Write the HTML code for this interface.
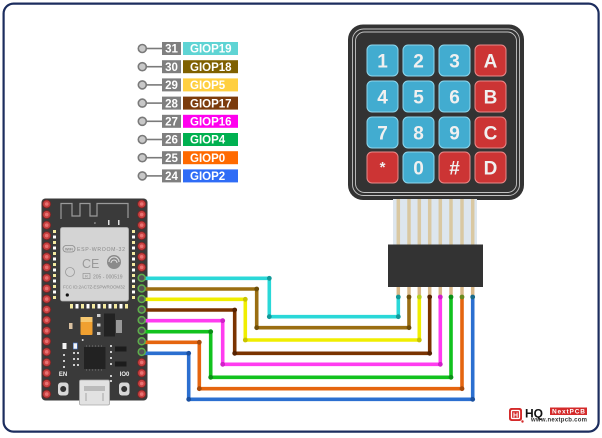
<!DOCTYPE html>
<html><head><meta charset="utf-8"><style>
html,body{margin:0;padding:0;background:#fff;}
svg{display:block;}
text{font-family:"Liberation Sans",Arial,sans-serif;}
</style></head><body>
<svg width="602" height="438" viewBox="0 0 602 438" xmlns="http://www.w3.org/2000/svg">
<rect x="0" y="0" width="602" height="438" fill="#fff"/>
<rect x="3.6" y="3.6" width="595" height="428" rx="10" fill="none" stroke="#1c2d5e" stroke-width="2.2"/>

<!-- Legend -->
<g font-weight="bold" fill="#fff">
<g stroke="#7a7a7a" stroke-width="1.6">
<line x1="146" y1="48.5" x2="162" y2="48.5"/><line x1="146" y1="66.7" x2="162" y2="66.7"/>
<line x1="146" y1="84.9" x2="162" y2="84.9"/><line x1="146" y1="103.1" x2="162" y2="103.1"/>
<line x1="146" y1="121.3" x2="162" y2="121.3"/><line x1="146" y1="139.5" x2="162" y2="139.5"/>
<line x1="146" y1="157.7" x2="162" y2="157.7"/><line x1="146" y1="175.9" x2="162" y2="175.9"/>
<circle cx="142.3" cy="48.5" r="4" fill="#c8c8c8"/><circle cx="142.3" cy="66.7" r="4" fill="#c8c8c8"/>
<circle cx="142.3" cy="84.9" r="4" fill="#c8c8c8"/><circle cx="142.3" cy="103.1" r="4" fill="#c8c8c8"/>
<circle cx="142.3" cy="121.3" r="4" fill="#c8c8c8"/><circle cx="142.3" cy="139.5" r="4" fill="#c8c8c8"/>
<circle cx="142.3" cy="157.7" r="4" fill="#c8c8c8"/><circle cx="142.3" cy="175.9" r="4" fill="#c8c8c8"/>
</g>
<g fill="#7f7f7f">
<rect x="162" y="42" width="19" height="13"/><rect x="162" y="60.2" width="19" height="13"/>
<rect x="162" y="78.4" width="19" height="13"/><rect x="162" y="96.6" width="19" height="13"/>
<rect x="162" y="114.8" width="19" height="13"/><rect x="162" y="133" width="19" height="13"/>
<rect x="162" y="151.2" width="19" height="13"/><rect x="162" y="169.4" width="19" height="13"/>
</g>
<rect x="183" y="42" width="55" height="13" fill="#5fd4d4"/>
<rect x="183" y="60.2" width="55" height="13" fill="#7f6000"/>
<rect x="183" y="78.4" width="55" height="13" fill="#ffcf40"/>
<rect x="183" y="96.6" width="55" height="13" fill="#7b3b0c"/>
<rect x="183" y="114.8" width="55" height="13" fill="#ff00ee"/>
<rect x="183" y="133" width="55" height="13" fill="#00b050"/>
<rect x="183" y="151.2" width="55" height="13" fill="#ff6a00"/>
<rect x="183" y="169.4" width="55" height="13" fill="#2f6cf6"/>
<g font-size="11.5" text-anchor="middle">
<text x="171.5" y="52.7">31</text><text x="171.5" y="70.9">30</text>
<text x="171.5" y="89.1">29</text><text x="171.5" y="107.3">28</text>
<text x="171.5" y="125.5">27</text><text x="171.5" y="143.7">26</text>
<text x="171.5" y="161.9">25</text><text x="171.5" y="180.1">24</text>
</g>
<g font-size="11.5">
<text x="190" y="52.7">GIOP19</text><text x="190" y="70.9">GIOP18</text>
<text x="190" y="89.1">GIOP5</text><text x="190" y="107.3">GIOP17</text>
<text x="190" y="125.5">GIOP16</text><text x="190" y="143.7">GIOP4</text>
<text x="190" y="161.9">GIOP0</text><text x="190" y="180.1">GIOP2</text>
</g>
</g>

<!-- Keypad -->
<rect x="348" y="24.5" width="176" height="175.5" rx="15" fill="#333"/>
<rect x="352.5" y="29" width="167" height="166.5" rx="11" fill="none" stroke="#c4c4c4" stroke-width="0.9"/>
<rect x="355.5" y="32" width="161" height="160.5" rx="9" fill="none" stroke="#c4c4c4" stroke-width="0.9"/>
<g stroke-width="1">
<g fill="#42acd0" stroke="#8fd6ec">
<rect x="367" y="45" width="31" height="31" rx="5"/><rect x="403" y="45" width="31" height="31" rx="5"/><rect x="439" y="45" width="31" height="31" rx="5"/>
<rect x="367" y="81" width="31" height="31" rx="5"/><rect x="403" y="81" width="31" height="31" rx="5"/><rect x="439" y="81" width="31" height="31" rx="5"/>
<rect x="367" y="117" width="31" height="31" rx="5"/><rect x="403" y="117" width="31" height="31" rx="5"/><rect x="439" y="117" width="31" height="31" rx="5"/>
<rect x="403" y="152" width="31" height="31" rx="5"/>
</g>
<g fill="#cc3434" stroke="#e98a8a">
<rect x="475" y="45" width="31" height="31" rx="5"/><rect x="475" y="81" width="31" height="31" rx="5"/>
<rect x="475" y="117" width="31" height="31" rx="5"/><rect x="475" y="152" width="31" height="31" rx="5"/>
<rect x="367" y="152" width="31" height="31" rx="5"/><rect x="439" y="152" width="31" height="31" rx="5"/>
</g>
</g>
<g font-size="19" font-weight="bold" fill="#f0f0f0" text-anchor="middle">
<text x="382.5" y="67.5">1</text><text x="418.5" y="67.5">2</text><text x="454.5" y="67.5">3</text><text x="490.5" y="67.5">A</text>
<text x="382.5" y="103.5">4</text><text x="418.5" y="103.5">5</text><text x="454.5" y="103.5">6</text><text x="490.5" y="103.5">B</text>
<text x="382.5" y="139.5">7</text><text x="418.5" y="139.5">8</text><text x="454.5" y="139.5">9</text><text x="490.5" y="139.5">C</text>
<text x="382.5" y="172" font-size="15">*</text><text x="418.5" y="174.5">0</text><text x="454.5" y="174.5">#</text><text x="490.5" y="174.5">D</text>
</g>

<!-- Ribbon -->
<rect x="393" y="199" width="84" height="46" fill="#dde6ee"/>
<g stroke="#d9c8a2" stroke-width="3.5">
<line x1="398.3" y1="199" x2="398.3" y2="245"/><line x1="409" y1="199" x2="409" y2="245"/>
<line x1="419.3" y1="199" x2="419.3" y2="245"/><line x1="429.7" y1="199" x2="429.7" y2="245"/>
<line x1="440.3" y1="199" x2="440.3" y2="245"/><line x1="451" y1="199" x2="451" y2="245"/>
<line x1="462" y1="199" x2="462" y2="245"/><line x1="472.7" y1="199" x2="472.7" y2="245"/>
</g>
<!-- Connector -->
<rect x="388" y="244.5" width="95" height="42.5" fill="#333"/>
<g stroke="#d8b888" stroke-width="3.5">
<line x1="398.3" y1="287" x2="398.3" y2="297"/><line x1="409" y1="287" x2="409" y2="297"/>
<line x1="419.3" y1="287" x2="419.3" y2="297"/><line x1="429.7" y1="287" x2="429.7" y2="297"/>
<line x1="440.3" y1="287" x2="440.3" y2="297"/><line x1="451" y1="287" x2="451" y2="297"/>
<line x1="462" y1="287" x2="462" y2="297"/><line x1="472.7" y1="287" x2="472.7" y2="297"/>
</g>

<!-- ESP32 board -->
<rect x="41.5" y="198.5" width="106" height="202" rx="4" fill="#3a3a3a"/>
<polyline points="61,219 61,203.5 72,203.5 72,216 80,216 80,203.5 90,203.5 90,216 97,216 97,203.5 128,203.5 128,218" fill="none" stroke="#9a9a9a" stroke-width="1.2"/>
<text x="94" y="224" font-size="4" fill="#ccc">c</text>
<rect x="108" y="220" width="1.5" height="5" fill="#ddd"/><rect x="118" y="220" width="1.5" height="5" fill="#ddd"/>
<rect x="60.5" y="227.5" width="68" height="73.5" rx="2" fill="#d4d4d4" stroke="#b5b5b5" stroke-width="0.8"/>
<g>
<rect x="53" y="230" width="3" height="3" fill="#f4eaa0"/><rect x="53" y="235.5" width="3" height="3" fill="#fff"/>
<rect x="53" y="241" width="3" height="3" fill="#f4eaa0"/><rect x="53" y="246.5" width="3" height="3" fill="#fff"/>
<rect x="53" y="252" width="3" height="3" fill="#f4eaa0"/><rect x="53" y="257.5" width="3" height="3" fill="#fff"/>
<rect x="53" y="263" width="3" height="3" fill="#f4eaa0"/><rect x="53" y="268.5" width="3" height="3" fill="#fff"/>
<rect x="53" y="274" width="3" height="3" fill="#f4eaa0"/><rect x="53" y="279.5" width="3" height="3" fill="#fff"/>
<rect x="53" y="285" width="3" height="3" fill="#f4eaa0"/><rect x="53" y="290.5" width="3" height="3" fill="#fff"/>
<rect x="53" y="296" width="3" height="3" fill="#f4eaa0"/>
<rect x="132" y="230" width="3" height="3" fill="#f4eaa0"/><rect x="132" y="235.5" width="3" height="3" fill="#fff"/>
<rect x="132" y="241" width="3" height="3" fill="#f4eaa0"/><rect x="132" y="246.5" width="3" height="3" fill="#fff"/>
<rect x="132" y="252" width="3" height="3" fill="#f4eaa0"/><rect x="132" y="257.5" width="3" height="3" fill="#fff"/>
<rect x="132" y="263" width="3" height="3" fill="#f4eaa0"/><rect x="132" y="268.5" width="3" height="3" fill="#fff"/>
<rect x="132" y="274" width="3" height="3" fill="#f4eaa0"/><rect x="132" y="279.5" width="3" height="3" fill="#fff"/>
<rect x="132" y="285" width="3" height="3" fill="#f4eaa0"/><rect x="132" y="290.5" width="3" height="3" fill="#fff"/>
<rect x="132" y="296" width="3" height="3" fill="#f4eaa0"/>
<rect x="70" y="304" width="3" height="4.5" fill="#f4eaa0"/><rect x="75.5" y="304" width="3" height="4.5" fill="#fff"/>
<rect x="81" y="304" width="3" height="4.5" fill="#f4eaa0"/><rect x="86.5" y="304" width="3" height="4.5" fill="#fff"/>
<rect x="92" y="304" width="3" height="4.5" fill="#f4eaa0"/><rect x="97.5" y="304" width="3" height="4.5" fill="#fff"/>
<rect x="103" y="304" width="3" height="4.5" fill="#f4eaa0"/><rect x="108.5" y="304" width="3" height="4.5" fill="#fff"/>
<rect x="114" y="304" width="3" height="4.5" fill="#f4eaa0"/><rect x="119.5" y="304" width="3" height="4.5" fill="#fff"/>
<rect x="125" y="304" width="3" height="4.5" fill="#f4eaa0"/>
</g>
<rect x="63" y="245.5" width="12" height="6.5" rx="3.2" fill="none" stroke="#8a8a8a" stroke-width="0.8"/>
<text x="65" y="250.5" font-size="3.8" font-weight="bold" fill="#8a8a8a">WiFi</text>
<text x="77" y="251" font-size="5.2" fill="#8a8a8a" textLength="48">ESP-WROOM-32</text>
<text x="82" y="268" font-size="12.5" fill="#9a9a9a">CE</text>
<circle cx="114" cy="262" r="7" fill="#8a8a8a"/>
<path d="M109,262 a5,5 0 0 1 10,0 M111,263 a3,3 0 0 1 6,0" fill="none" stroke="#e0e0e0" stroke-width="1"/>
<circle cx="70" cy="272" r="4.5" fill="none" stroke="#999" stroke-width="0.8"/>
<rect x="83" y="273.5" width="7" height="5" fill="none" stroke="#8a8a8a" stroke-width="0.6"/>
<text x="85" y="277.7" font-size="4" fill="#8a8a8a">R</text>
<text x="93" y="278.5" font-size="5" fill="#8a8a8a">205 - 000519</text>
<text x="63" y="288.5" font-size="4.5" fill="#8a8a8a" textLength="62">FCC ID:2AC7Z-ESPWROOM32</text>
<circle cx="67.3" cy="295" r="1.6" fill="#111"/>

<!-- lower components -->
<rect x="80.5" y="317" width="12" height="18" rx="1" fill="#f0a030"/>
<rect x="80.5" y="317" width="12" height="5" fill="#f6c870"/>
<rect x="97" y="314" width="3.5" height="3" fill="#ccc"/><rect x="97" y="323.5" width="3.5" height="3" fill="#ccc"/><rect x="97" y="332" width="3.5" height="3" fill="#ccc"/>
<rect x="104" y="313.5" width="11" height="23" fill="#222"/>
<rect x="116" y="320" width="6" height="13" fill="#999"/>
<rect x="69" y="323" width="3.5" height="6" fill="#d9c0a0"/>
<circle cx="82.7" cy="340" r="1" fill="#ddd"/>
<rect x="62.5" y="343" width="4" height="6" fill="#f4f4f4"/>
<rect x="73.3" y="343" width="4" height="6" fill="#f4f4f4" stroke="#4477cc" stroke-width="0.6"/>
<rect x="84" y="347" width="21.5" height="22" fill="#222"/>
<g fill="#777">
<rect x="86" y="345.5" width="1" height="1"/><rect x="89" y="345.5" width="1" height="1"/><rect x="92" y="345.5" width="1" height="1"/><rect x="95" y="345.5" width="1" height="1"/><rect x="98" y="345.5" width="1" height="1"/><rect x="101" y="345.5" width="1" height="1"/>
<rect x="86" y="369.5" width="1" height="1"/><rect x="89" y="369.5" width="1" height="1"/><rect x="92" y="369.5" width="1" height="1"/><rect x="95" y="369.5" width="1" height="1"/><rect x="98" y="369.5" width="1" height="1"/><rect x="101" y="369.5" width="1" height="1"/>
</g>
<g fill="#ccc">
<rect x="63" y="354" width="2" height="2"/><rect x="63" y="360" width="2" height="2"/><rect x="63" y="366" width="2" height="2"/>
<rect x="73" y="352" width="2" height="2"/><rect x="77" y="352" width="2" height="2"/><rect x="73" y="358" width="2" height="2"/><rect x="77" y="358" width="2" height="2"/><rect x="73" y="364" width="2" height="2"/><rect x="77" y="364" width="2" height="2"/>
<rect x="110" y="345" width="2" height="2"/><rect x="110" y="351" width="2" height="2"/><rect x="110" y="357" width="2" height="2"/><rect x="110" y="363" width="2" height="2"/><rect x="110" y="375" width="2" height="2"/><rect x="110" y="380" width="2" height="2"/>
</g>
<rect x="115" y="346.5" width="11.5" height="5" fill="#1c1c1c"/>
<rect x="115" y="361.5" width="11.5" height="5" fill="#1c1c1c"/>
<text x="63" y="376" font-size="6" font-weight="bold" fill="#eee" text-anchor="middle">EN</text>
<text x="124.5" y="376" font-size="6" font-weight="bold" fill="#eee" text-anchor="middle">IO0</text>
<rect x="58" y="382.5" width="10.5" height="13" rx="3" fill="#d8d8d8"/><circle cx="63.2" cy="389" r="3" fill="#333"/>
<rect x="119" y="382.5" width="10.5" height="13" rx="3" fill="#d8d8d8"/><circle cx="124.2" cy="389" r="3" fill="#333"/>
<rect x="79.5" y="380" width="30" height="25" rx="1.5" fill="#e2e2e2" stroke="#a8a8a8" stroke-width="0.8"/>
<rect x="84" y="386" width="21" height="5" fill="#bbb"/>
<line x1="86" y1="393" x2="86" y2="401" stroke="#999" stroke-width="0.8"/><line x1="103" y1="393" x2="103" y2="401" stroke="#999" stroke-width="0.8"/>

<!-- pins -->
<g fill="#c94040" stroke="#7a2424" stroke-width="0.8">
<circle cx="46.7" cy="204" r="4"/><circle cx="46.7" cy="214.56" r="4"/><circle cx="46.7" cy="225.12" r="4"/><circle cx="46.7" cy="235.68" r="4"/><circle cx="46.7" cy="246.24" r="4"/><circle cx="46.7" cy="256.8" r="4"/><circle cx="46.7" cy="267.36" r="4"/><circle cx="46.7" cy="277.92" r="4"/><circle cx="46.7" cy="288.48" r="4"/><circle cx="46.7" cy="299.04" r="4"/><circle cx="46.7" cy="309.6" r="4"/><circle cx="46.7" cy="320.16" r="4"/><circle cx="46.7" cy="330.72" r="4"/><circle cx="46.7" cy="341.28" r="4"/><circle cx="46.7" cy="351.84" r="4"/><circle cx="46.7" cy="362.4" r="4"/><circle cx="46.7" cy="372.96" r="4"/><circle cx="46.7" cy="383.52" r="4"/><circle cx="46.7" cy="394.08" r="4"/>
<circle cx="141.7" cy="204" r="4"/><circle cx="141.7" cy="214.56" r="4"/><circle cx="141.7" cy="225.12" r="4"/><circle cx="141.7" cy="235.68" r="4"/><circle cx="141.7" cy="246.24" r="4"/><circle cx="141.7" cy="256.8" r="4"/><circle cx="141.7" cy="267.36" r="4"/>
<circle cx="141.7" cy="362.4" r="4"/><circle cx="141.7" cy="372.96" r="4"/><circle cx="141.7" cy="383.52" r="4"/><circle cx="141.7" cy="394.08" r="4"/>
</g>
<g fill="#e87272">
<circle cx="46.7" cy="204" r="1.8"/><circle cx="46.7" cy="214.56" r="1.8"/><circle cx="46.7" cy="225.12" r="1.8"/><circle cx="46.7" cy="235.68" r="1.8"/><circle cx="46.7" cy="246.24" r="1.8"/><circle cx="46.7" cy="256.8" r="1.8"/><circle cx="46.7" cy="267.36" r="1.8"/><circle cx="46.7" cy="277.92" r="1.8"/><circle cx="46.7" cy="288.48" r="1.8"/><circle cx="46.7" cy="299.04" r="1.8"/><circle cx="46.7" cy="309.6" r="1.8"/><circle cx="46.7" cy="320.16" r="1.8"/><circle cx="46.7" cy="330.72" r="1.8"/><circle cx="46.7" cy="341.28" r="1.8"/><circle cx="46.7" cy="351.84" r="1.8"/><circle cx="46.7" cy="362.4" r="1.8"/><circle cx="46.7" cy="372.96" r="1.8"/><circle cx="46.7" cy="383.52" r="1.8"/><circle cx="46.7" cy="394.08" r="1.8"/>
<circle cx="141.7" cy="204" r="1.8"/><circle cx="141.7" cy="214.56" r="1.8"/><circle cx="141.7" cy="225.12" r="1.8"/><circle cx="141.7" cy="235.68" r="1.8"/><circle cx="141.7" cy="246.24" r="1.8"/><circle cx="141.7" cy="256.8" r="1.8"/><circle cx="141.7" cy="267.36" r="1.8"/>
<circle cx="141.7" cy="362.4" r="1.8"/><circle cx="141.7" cy="372.96" r="1.8"/><circle cx="141.7" cy="383.52" r="1.8"/><circle cx="141.7" cy="394.08" r="1.8"/>
</g>

<!-- wires -->
<g fill="none" stroke-linejoin="round" stroke-width="3.6">
<polyline points="144,278.3 269.3,278.3 269.3,316.7 398.3,316.7 398.3,297" stroke="#2ad8d8"/>
<polyline points="144,289 256.7,289 256.7,327.7 409,327.7 409,297" stroke="#9a6e12"/>
<polyline points="144,299.3 245.3,299.3 245.3,340 419.3,340 419.3,297" stroke="#f0ee00"/>
<polyline points="144,310 234.7,310 234.7,353.3 429.7,353.3 429.7,297" stroke="#7a3300"/>
<polyline points="144,320.7 222.7,320.7 222.7,364.3 440.3,364.3 440.3,297" stroke="#ff3cf0"/>
<polyline points="144,331.7 210.7,331.7 210.7,377.3 451,377.3 451,297" stroke="#12c21e"/>
<polyline points="144,342.3 199.3,342.3 199.3,388.7 462,388.7 462,297" stroke="#e5650f"/>
<polyline points="144,353.3 188.7,353.3 188.7,399.3 472.7,399.3 472.7,297" stroke="#2b6fd0"/>
</g>
<g>
<circle cx="269.3" cy="278.3" r="2.4" fill="#119999"/><circle cx="269.3" cy="316.7" r="2.4" fill="#119999"/><circle cx="398.3" cy="316.7" r="2.4" fill="#119999"/><circle cx="398.3" cy="297" r="2.4" fill="#119999"/>
<circle cx="256.7" cy="289" r="2.4" fill="#6e4e08"/><circle cx="256.7" cy="327.7" r="2.4" fill="#6e4e08"/><circle cx="409" cy="327.7" r="2.4" fill="#6e4e08"/><circle cx="409" cy="297" r="2.4" fill="#6e4e08"/>
<circle cx="245.3" cy="299.3" r="2.4" fill="#c8c400"/><circle cx="245.3" cy="340" r="2.4" fill="#c8c400"/><circle cx="419.3" cy="340" r="2.4" fill="#c8c400"/><circle cx="419.3" cy="297" r="2.4" fill="#b8d020"/>
<circle cx="234.7" cy="310" r="2.4" fill="#552200"/><circle cx="234.7" cy="353.3" r="2.4" fill="#552200"/><circle cx="429.7" cy="353.3" r="2.4" fill="#552200"/><circle cx="429.7" cy="297" r="2.4" fill="#552200"/>
<circle cx="222.7" cy="320.7" r="2.4" fill="#d020c8"/><circle cx="222.7" cy="364.3" r="2.4" fill="#d020c8"/><circle cx="440.3" cy="364.3" r="2.4" fill="#d020c8"/><circle cx="440.3" cy="297" r="2.4" fill="#d020c8"/>
<circle cx="210.7" cy="331.7" r="2.4" fill="#0a9016"/><circle cx="210.7" cy="377.3" r="2.4" fill="#0a9016"/><circle cx="451" cy="377.3" r="2.4" fill="#0a9016"/><circle cx="451" cy="297" r="2.4" fill="#0a9016"/>
<circle cx="199.3" cy="342.3" r="2.4" fill="#a84a0a"/><circle cx="199.3" cy="388.7" r="2.4" fill="#a84a0a"/><circle cx="462" cy="388.7" r="2.4" fill="#a84a0a"/><circle cx="462" cy="297" r="2.4" fill="#6a8a20"/>
<circle cx="188.7" cy="353.3" r="2.4" fill="#1a50a0"/><circle cx="188.7" cy="399.3" r="2.4" fill="#1a50a0"/><circle cx="472.7" cy="399.3" r="2.4" fill="#1a50a0"/><circle cx="472.7" cy="297" r="2.4" fill="#1a6a8a"/>
</g>
<!-- green connected pins -->
<g fill="#555" stroke="#5db04a" stroke-width="1.5">
<circle cx="141.7" cy="277.92" r="3.5"/><circle cx="141.7" cy="288.48" r="3.5"/><circle cx="141.7" cy="299.04" r="3.5"/><circle cx="141.7" cy="309.6" r="3.5"/><circle cx="141.7" cy="320.16" r="3.5"/><circle cx="141.7" cy="330.72" r="3.5"/><circle cx="141.7" cy="341.28" r="3.5"/><circle cx="141.7" cy="351.84" r="3.5"/>
</g>

<!-- Logo -->
<rect x="509" y="408" width="13" height="13" rx="2.5" fill="#d42a2a"/>
<rect x="511.5" y="410.5" width="8" height="8" rx="1" fill="none" stroke="#fff" stroke-width="1.2"/>
<text x="515.5" y="417.5" font-size="7" font-weight="bold" fill="#fff" text-anchor="middle">H</text>
<circle cx="522.5" cy="421.5" r="1.2" fill="#d42a2a"/>
<text x="525" y="417.5" font-size="12" font-weight="bold" fill="#111">HQ</text>
<rect x="550" y="407.5" width="37" height="7.5" fill="#d42a2a"/>
<text x="552" y="413.6" font-size="6.5" font-weight="bold" fill="#fff" textLength="33">NextPCB</text>
<text x="531" y="421.5" font-size="6" font-weight="bold" fill="#333" textLength="56">www.nextpcb.com</text>
</svg>
</body></html>
